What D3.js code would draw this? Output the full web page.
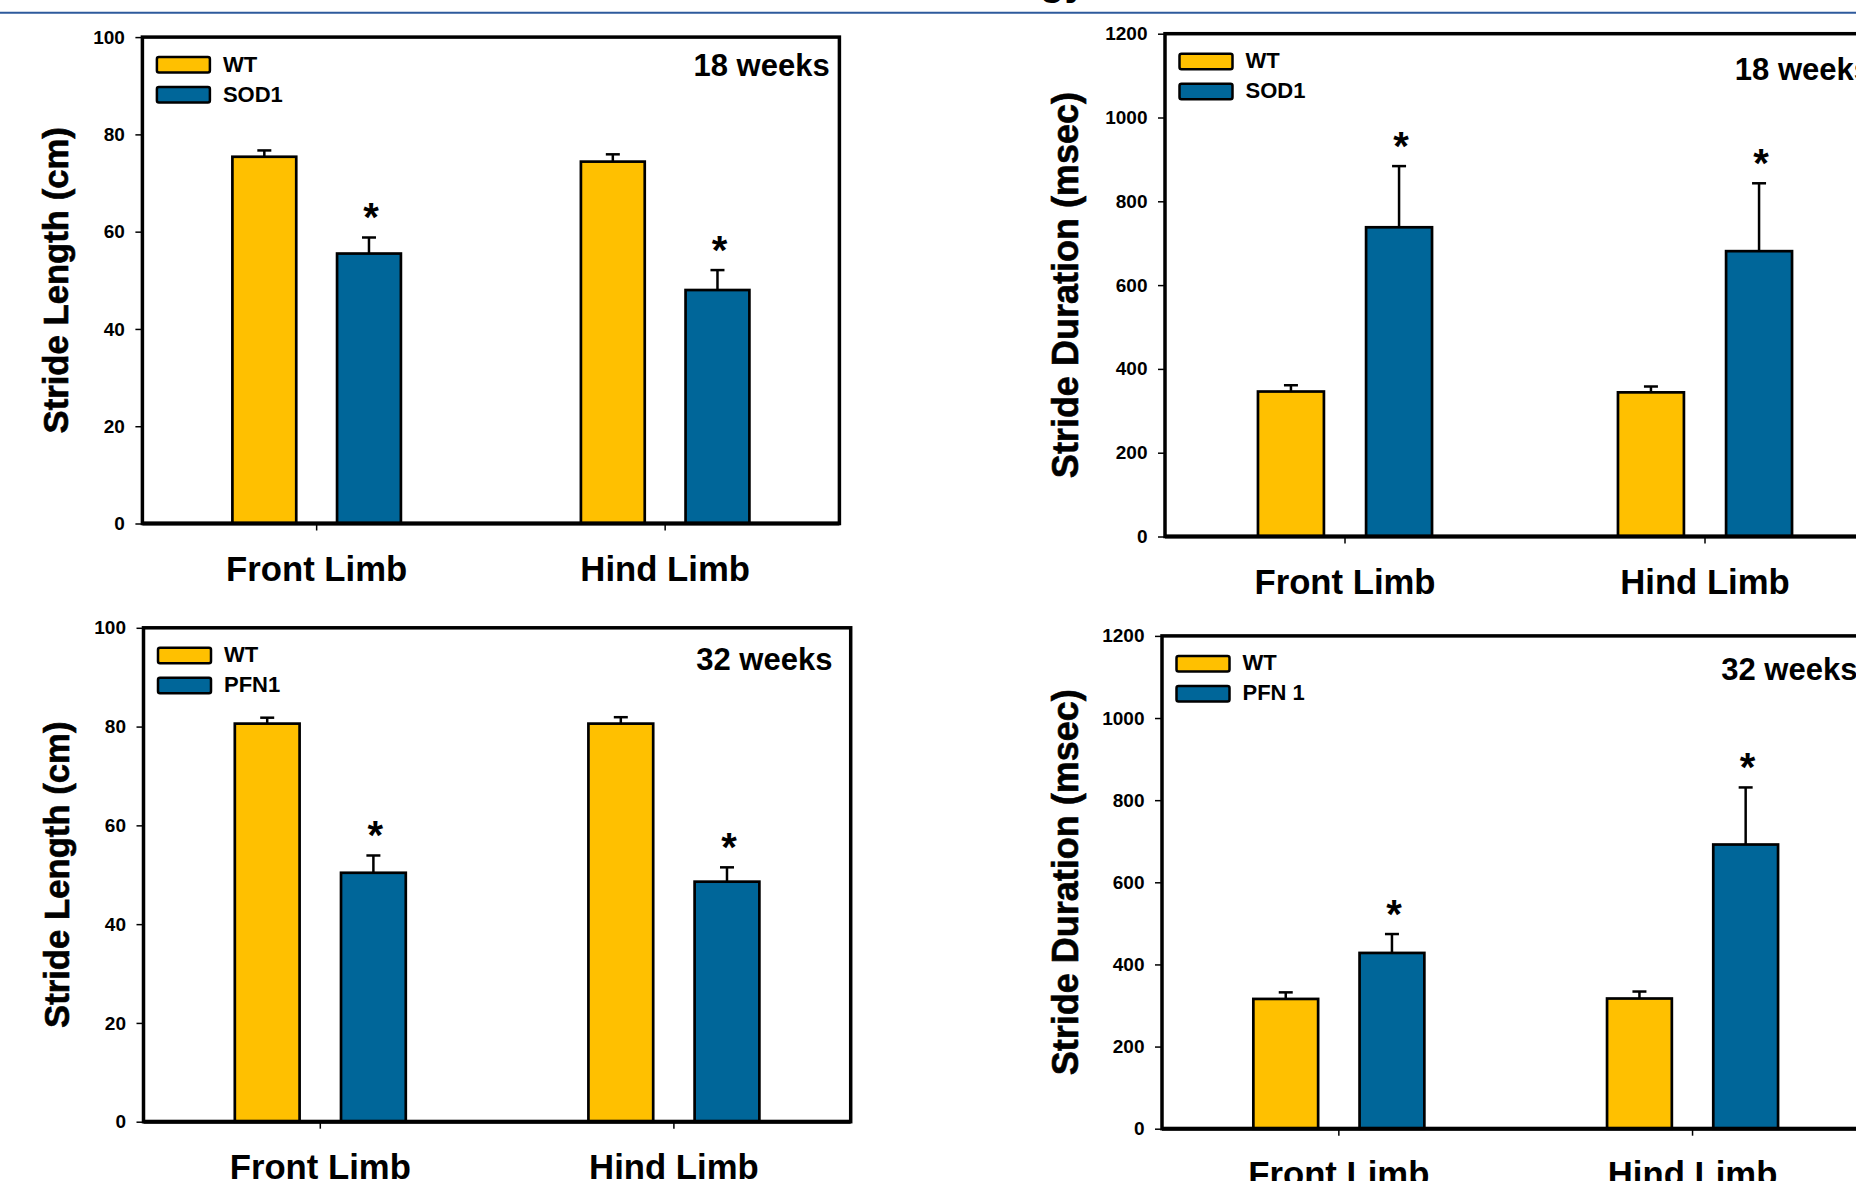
<!DOCTYPE html>
<html>
<head>
<meta charset="utf-8">
<script src="https://cdn.jsdelivr.net/npm/d3@7"></script>
<style>
body { margin: 0; background: #fff; overflow: hidden; }
svg text { font-family: "Liberation Sans", Arial, sans-serif; font-weight: bold; fill: #000; }
</style>
</head>
<body>
<div id="viz"></div>
<script>
// values
var categories = ['Front Limb', 'Hind Limb'];
var lengthTicks = [0, 20, 40, 60, 80, 100];
var durationTicks = [0, 200, 400, 600, 800, 1000, 1200];

// 18 weeks: WT vs SOD1
var len18WT = [75.4, 74.4];
var len18WTErr = [1.3, 1.5];
var len18SOD1 = [55.5, 48.0];
var len18SOD1Err = [3.3, 4.1];
var dur18WT = [346, 344];
var dur18WTErr = [15, 14];
var dur18SOD1 = [738, 681];
var dur18SOD1Err = [146, 162];

// 32 weeks: WT vs PFN1
var len32WT = [80.6, 80.6];
var len32WTErr = [1.2, 1.3];
var len32PFN1 = [50.4, 48.6];
var len32PFN1Err = [3.5, 2.9];
var dur32WT = [316, 317];
var dur32WTErr = [16, 17];
var dur32PFN1 = [428, 692];
var dur32PFN1Err = [46, 139];

var colors = ['#FFC000', '#006699'];

var svg = d3.select('#viz').append('svg')
	.attr('width', 1856)
	.attr('height', 1181);

// slide header rule and the cut-off bit of the title above it
svg.append('line')
	.attr('x1', 0).attr('x2', 1856)
	.attr('y1', 12.7).attr('y2', 12.7)
	.attr('stroke', '#2e5a9c')
	.attr('stroke-width', 2);
svg.append('text')
	.attr('x', 1040).attr('y', -5)
	.attr('font-size', 40)
	.text('gy');

// draws one bar chart panel
function makePanel(o) {
	var g = svg.append('g')
		.attr('transform', 'translate(' + o.left + ',' + o.top + ')');

	var y = d3.scaleLinear()
		.domain([0, o.ticks[o.ticks.length - 1]])
		.range([o.height, 0]);

	var x0 = d3.scaleBand()
		.domain(categories)
		.range([0, o.width]);

	var x1 = d3.scaleBand()
		.domain([0, 1])
		.range([0, x0.bandwidth()])
		.paddingInner(0.39)
		.paddingOuter(0.86);

	// y axis ticks and labels
	var yAxis = g.append('g')
		.call(d3.axisLeft(y).tickValues(o.ticks).tickFormat(d3.format('d'))
			.tickSize(7).tickPadding(10.5));
	yAxis.select('.domain').remove();
	yAxis.selectAll('line').attr('stroke-width', 1.5);
	yAxis.selectAll('text')
		.attr('font-size', 19)
		.attr('font-family', '"Liberation Sans", Arial, sans-serif')
		.attr('font-weight', 'bold');

	// x axis ticks and category labels
	var xAxis = g.append('g')
		.attr('transform', 'translate(0,' + o.height + ')')
		.call(d3.axisBottom(x0).tickSize(7));
	xAxis.select('.domain').remove();
	xAxis.selectAll('line').attr('stroke-width', 1.5);
	xAxis.selectAll('text')
		.attr('y', 57.5)
		.attr('dy', 0)
		.attr('font-size', 34.7)
		.attr('font-family', '"Liberation Sans", Arial, sans-serif')
		.attr('font-weight', 'bold');

	// bars, error bars and asterisks
	o.values.forEach(function(vals, s) {
		var errs = o.errors[s];
		var grp = g.append('g');
		categories.forEach(function(cat, i) {
			var bx = x0(cat) + x1(s);
			var bw = x1.bandwidth();
			var cx = bx + bw / 2;
			var top = y(vals[i] + errs[i]);
			grp.append('line')
				.attr('x1', cx).attr('x2', cx)
				.attr('y1', y(vals[i])).attr('y2', top)
				.attr('stroke', '#000').attr('stroke-width', 2.5);
			grp.append('line')
				.attr('x1', cx - 7).attr('x2', cx + 7)
				.attr('y1', top).attr('y2', top)
				.attr('stroke', '#000').attr('stroke-width', 2.5);
			grp.append('rect')
				.attr('x', bx)
				.attr('y', y(vals[i]))
				.attr('width', bw)
				.attr('height', y(0) - y(vals[i]))
				.attr('fill', colors[s])
				.attr('stroke', '#000')
				.attr('stroke-width', 2.7);
			if (s == 1) {
				grp.append('text')
					.attr('x', cx + 2)
					.attr('y', top - 6)
					.attr('text-anchor', 'middle')
					.attr('font-size', 40)
					.text('*');
			}
		});
	});

	// frame and heavier x axis
	g.append('rect')
		.attr('width', o.width)
		.attr('height', o.height)
		.attr('fill', 'none')
		.attr('stroke', '#000')
		.attr('stroke-width', 3.5);
	g.append('line')
		.attr('x1', 0).attr('x2', o.width)
		.attr('y1', o.height).attr('y2', o.height)
		.attr('stroke', '#000')
		.attr('stroke-width', 4);

	// legend
	var leg = g.append('g').attr('transform', 'translate(14.5,20)');
	o.names.forEach(function(name, s) {
		leg.append('rect')
			.attr('x', 0)
			.attr('y', s * 30)
			.attr('width', 53)
			.attr('height', 15.5)
			.attr('rx', 2)
			.attr('fill', colors[s])
			.attr('stroke', '#000')
			.attr('stroke-width', 2.5);
		leg.append('text')
			.attr('x', 66)
			.attr('y', s * 30 + 14.5)
			.attr('font-size', 22)
			.text(name);
	});

	// age label
	g.append('text')
		.attr('x', o.width - o.weekInset)
		.attr('y', o.weekY)
		.attr('text-anchor', 'end')
		.attr('font-size', 31)
		.text(o.week);

	// y axis title
	svg.append('text')
		.attr('transform', 'translate(' + o.titleX + ',' + (o.top + o.height / 2) + ') rotate(-90)')
		.attr('text-anchor', 'middle')
		.attr('dy', '0.35em')
		.attr('font-size', o.titleSize)
		.attr('stroke', '#000')
		.attr('stroke-width', 0.6)
		.text(o.yTitle);
}

makePanel({
	left: 142.4, top: 37.1, width: 697, height: 486.4,
	ticks: lengthTicks, yTitle: 'Stride Length (cm)', titleX: 56, titleSize: 34.7,
	names: ['WT', 'SOD1'],
	values: [len18WT, len18SOD1], errors: [len18WTErr, len18SOD1Err],
	week: '18 weeks', weekInset: 9.7, weekY: 38.7
});

makePanel({
	left: 1165, top: 33.7, width: 720, height: 502.8,
	ticks: durationTicks, yTitle: 'Stride Duration (msec)', titleX: 1065.6, titleSize: 36,
	names: ['WT', 'SOD1'],
	values: [dur18WT, dur18SOD1], errors: [dur18WTErr, dur18SOD1Err],
	week: '18 weeks', weekInset: 14, weekY: 46.7
});

makePanel({
	left: 143.5, top: 627.8, width: 707.2, height: 493.9,
	ticks: lengthTicks, yTitle: 'Stride Length (cm)', titleX: 56.5, titleSize: 34.7,
	names: ['WT', 'PFN1'],
	values: [len32WT, len32PFN1], errors: [len32WTErr, len32PFN1Err],
	week: '32 weeks', weekInset: 18.3, weekY: 41.9
});

makePanel({
	left: 1162, top: 635.9, width: 707.4, height: 492.8,
	ticks: durationTicks, yTitle: 'Stride Duration (msec)', titleX: 1065.6, titleSize: 36,
	names: ['WT', 'PFN 1'],
	values: [dur32WT, dur32PFN1], errors: [dur32WTErr, dur32PFN1Err],
	week: '32 weeks', weekInset: 12, weekY: 43.8
});
</script>
</body>
</html>
